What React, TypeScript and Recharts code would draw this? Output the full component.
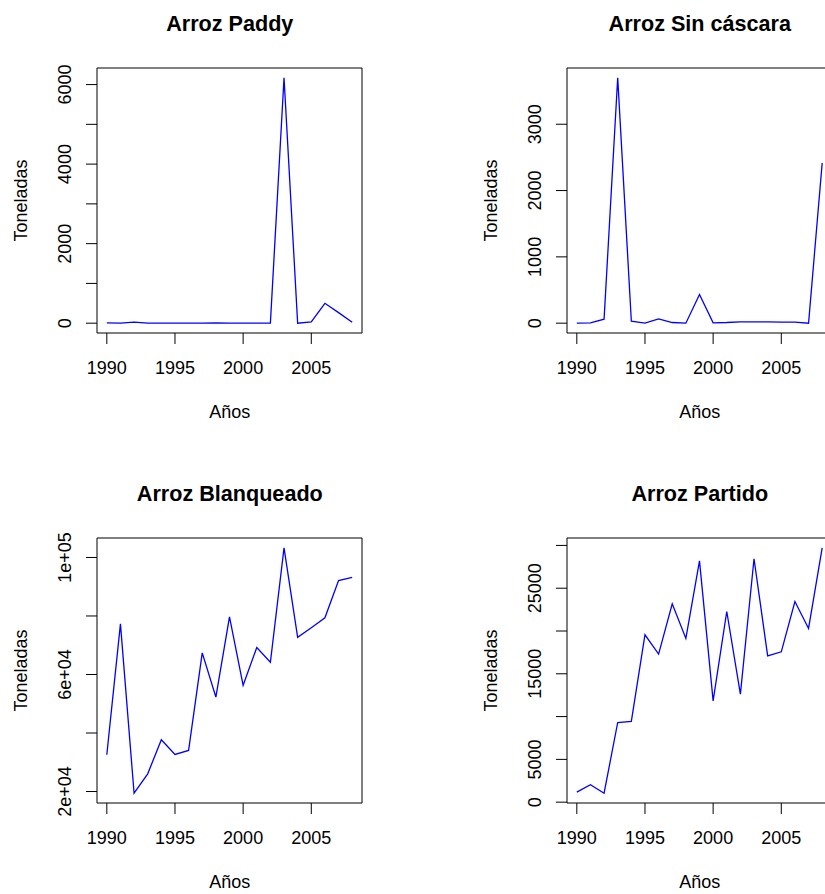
import React from 'react';
import { LineChart, Line, XAxis, YAxis, ReferenceArea } from 'recharts';

// Años de la serie
const years = [1990, 1991, 1992, 1993, 1994, 1995, 1996, 1997, 1998, 1999, 2000, 2001, 2002, 2003, 2004, 2005, 2006, 2007, 2008];

// Toneladas por producto
const paddy = [10, 0, 25, 0, 0, 0, 0, 0, 5, 0, 0, 0, 5, 6170, 0, 35, 500, 265, 25];
const sinCascara = [0, 5, 60, 3700, 30, 0, 65, 10, 0, 432, 5, 10, 20, 20, 20, 15, 15, 0, 2415];
const blanqueado = [32560, 77300, 19430, 26050, 37700, 32670, 34040, 67370, 52300, 79700, 56300, 69200, 64200, 103300, 72700, 76000, 79400, 92100, 93200];
const partido = [1170, 2030, 1050, 9310, 9430, 19560, 17300, 23180, 19130, 28200, 11840, 22280, 12620, 28440, 17100, 17570, 23450, 20300, 29720];

const xTicks = [1990, 1995, 2000, 2005];

// marcas del eje y y las etiquetas que R deja visibles
const paddyTicks = [0, 1000, 2000, 3000, 4000, 5000, 6000];
const paddyLabels = ['0', '', '2000', '', '4000', '', '6000'];
const sinCascaraTicks = [0, 1000, 2000, 3000];
const sinCascaraLabels = ['0', '1000', '2000', '3000'];
const blanqueadoTicks = [20000, 40000, 60000, 80000, 100000];
const blanqueadoLabels = ['2e+04', '', '6e+04', '', '1e+05'];
const partidoTicks = [0, 5000, 10000, 15000, 20000, 25000, 30000];
const partidoLabels = ['0', '5000', '', '15000', '', '25000', ''];

const FONT = 'Arial, "Liberation Sans", Helvetica, sans-serif';
const SIZE = 470;

// rango de R: extiende 4% a cada lado
const pad = (vals: number[]): [number, number] => {
  const lo = Math.min(...vals);
  const hi = Math.max(...vals);
  const d = (hi - lo) * 0.04;
  return [lo - d, hi + d];
};

interface PanelProps {
  title: string;
  values: number[];
  ticks: number[];
  labels: string[];
}

const Panel: React.FC<PanelProps> = ({ title, values, ticks, labels }) => {
  const data = years.map((y, i) => ({ year: y, value: values[i] }));
  const xDomain = pad(years);
  const yDomain = pad(values);

  const XTick = (props: any) => (
    <text x={props.x} y={373.5} textAnchor="middle" fontSize={18} fontFamily={FONT} fill="#000">
      {props.payload.value}
    </text>
  );

  const YTick = (props: any) => {
    const idx = ticks.indexOf(props.payload.value);
    const label = idx >= 0 ? labels[idx] : '';
    if (!label) return <g />;
    return (
      <text
        x={71}
        y={props.y}
        textAnchor="middle"
        fontSize={18}
        fontFamily={FONT}
        fill="#000"
        transform={`rotate(-90 71 ${props.y})`}
      >
        {label}
      </text>
    );
  };

  return (
    <LineChart width={SIZE} height={SIZE} data={data} margin={{ top: 68, right: 108, bottom: 0, left: 0 }}>
      <XAxis
        dataKey="year"
        type="number"
        domain={xDomain}
        allowDataOverflow
        ticks={xTicks}
        interval={0}
        height={137}
        tickSize={11}
        axisLine={false}
        tickLine={{ stroke: '#000' }}
        tick={XTick}
      />
      <YAxis
        type="number"
        domain={yDomain}
        allowDataOverflow
        ticks={ticks}
        interval={0}
        width={97}
        tickSize={11}
        axisLine={false}
        tickLine={{ stroke: '#000' }}
        tick={YTick}
      />
      <Line
        type="linear"
        dataKey="value"
        stroke="#0000ff"
        strokeWidth={1.3}
        dot={false}
        isAnimationActive={false}
      />
      <ReferenceArea
        x1={xDomain[0]}
        x2={xDomain[1]}
        y1={yDomain[0]}
        y2={yDomain[1]}
        fill="none"
        fillOpacity={0}
        stroke="#000"
        strokeWidth={1}
        ifOverflow="visible"
      />
      <text x={229.8} y={31} textAnchor="middle" fontSize={21.6} fontWeight="bold" fontFamily={FONT} fill="#000">
        {title}
      </text>
      <text x={229.8} y={418} textAnchor="middle" fontSize={18} fontFamily={FONT} fill="#000">
        Años
      </text>
      <text x={27} y={200.5} textAnchor="middle" fontSize={18} fontFamily={FONT} fill="#000" transform="rotate(-90 27 200.5)">
        Toneladas
      </text>
    </LineChart>
  );
};

export default function App() {
  return (
    <div style={{ position: 'fixed', left: 0, top: 0, width: 825, height: 894, overflow: 'hidden', background: '#fff' }}>
      <div style={{ position: 'absolute', left: 0, top: 0 }}>
        <Panel title="Arroz Paddy" values={paddy} ticks={paddyTicks} labels={paddyLabels} />
      </div>
      <div style={{ position: 'absolute', left: SIZE, top: 0 }}>
        <Panel title="Arroz Sin cáscara" values={sinCascara} ticks={sinCascaraTicks} labels={sinCascaraLabels} />
      </div>
      <div style={{ position: 'absolute', left: 0, top: SIZE }}>
        <Panel title="Arroz Blanqueado" values={blanqueado} ticks={blanqueadoTicks} labels={blanqueadoLabels} />
      </div>
      <div style={{ position: 'absolute', left: SIZE, top: SIZE }}>
        <Panel title="Arroz Partido" values={partido} ticks={partidoTicks} labels={partidoLabels} />
      </div>
    </div>
  );
}
